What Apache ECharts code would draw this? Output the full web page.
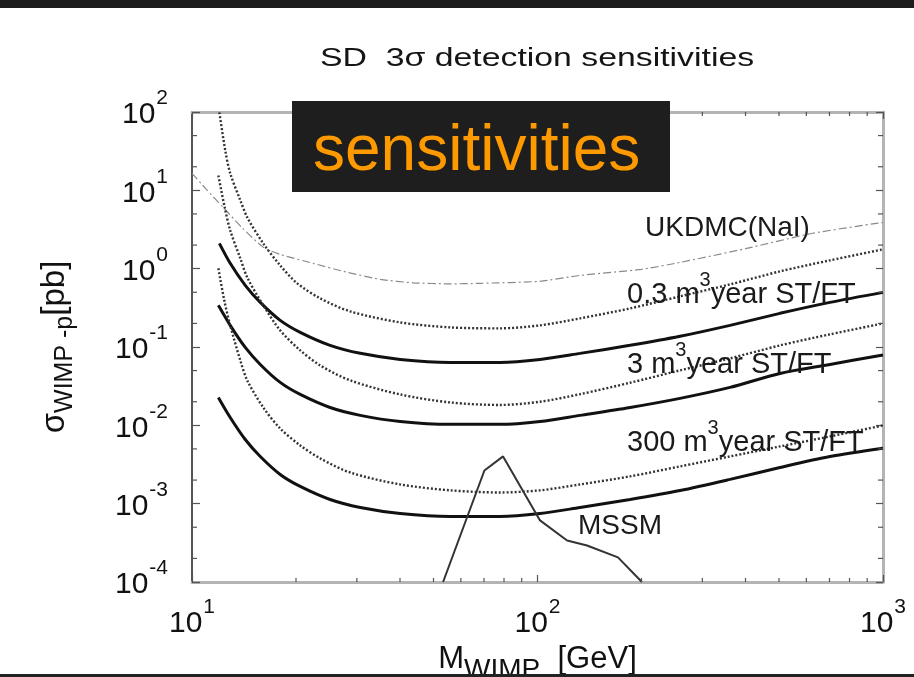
<!DOCTYPE html>
<html><head><meta charset="utf-8">
<script src="https://cdn.jsdelivr.net/npm/echarts@6/dist/echarts.min.js"></script>
<style>html,body{margin:0;padding:0;background:#fff}#c{width:914px;height:677px}</style>
</head><body><div id="c"></div>
<script>
// ---------- data ----------
const titleText = 'SD  3\u03c3 detection sensitivities';
const overlayText = 'sensitivities';
const xRange = [10, 1000];
const yRange = [1e-4, 100];
const xMinorTicks = [20,30,40,50,60,70,80,90,200,300,400,500,600,700,800,900];
const yMinorTicks = [2e-4,5e-4,2e-3,5e-3,2e-2,5e-2,0.2,0.5,2,5,20,50];

const ukdmcMass  = [10, 11.0, 12.3, 14.0, 16.1, 18.0, 22.4, 28.1, 35.1, 43.7, 55.9, 68.2, 101.7, 132.8, 200, 258, 400, 626, 1000];
const ukdmcSigma = [16.5, 10.3, 6.07, 3.30, 1.87, 1.52, 1.17, 0.90, 0.73, 0.66, 0.64, 0.65, 0.69, 0.82, 0.98, 1.20, 1.80, 2.83, 3.9];

const dot03Mass  = [12.0, 12.48, 12.9, 13.80, 14.45, 16.08, 18.0, 20.17, 23.5, 28.7, 40.05, 55.9, 77.9, 101.7, 132.8, 185.3, 258.5, 360.7, 503.2, 702.1, 1000];
const dot03Sigma = [99, 32.4, 16.5, 7.45, 4.52, 2.10, 1.10, 0.649, 0.418, 0.285, 0.206, 0.178, 0.173, 0.189, 0.232, 0.311, 0.443, 0.630, 0.924, 1.276, 1.764];

const sol03Mass  = [12.0, 12.9, 14.26, 15.76, 18.0, 20.57, 25.1, 30.7, 40.05, 55.9, 77.9, 101.7, 132.8, 185.3, 258.5, 360.7, 503.2, 702.1, 1000];
const sol03Sigma = [2.10, 1.17, 0.612, 0.371, 0.219, 0.154, 0.105, 0.083, 0.0694, 0.0636, 0.0636, 0.0694, 0.0829, 0.105, 0.137, 0.189, 0.269, 0.371, 0.498];

const dot3Mass  = [11.92, 12.4, 12.9, 13.8, 14.45, 16.08, 18.0, 20.57, 23.5, 28.7, 40.05, 55.9, 77.9, 101.7, 132.8, 185.3, 258.5, 360.7, 503.2, 702.1, 1000];
const dot3Sigma = [15.5, 6.43, 3.08, 1.35, 0.774, 0.340, 0.163, 0.0905, 0.0582, 0.0375, 0.0248, 0.0196, 0.0182, 0.0200, 0.0250, 0.0350, 0.0503, 0.0715, 0.1048, 0.145, 0.200];

const sol3Mass  = [11.92, 12.9, 14.26, 15.76, 18.0, 20.57, 25.1, 30.7, 40.05, 55.9, 77.9, 101.7, 132.8, 185.3, 258.5, 360.7, 503.2, 702.1, 1000];
const sol3Sigma = [0.340, 0.189, 0.0988, 0.0599, 0.0353, 0.0248, 0.0169, 0.0134, 0.0112, 0.0103, 0.0103, 0.0112, 0.0134, 0.0169, 0.0221, 0.0305, 0.0460, 0.0599, 0.079];

const dot300Mass  = [11.92, 12.4, 12.9, 13.8, 14.45, 16.08, 18.0, 20.57, 23.5, 28.7, 40.05, 55.9, 77.9, 101.7, 132.8, 185.3, 258.5, 360.7, 503.2, 702.1, 1000];
const dot300Sigma = [1.01, 0.394, 0.189, 0.0674, 0.0375, 0.0169, 0.00913, 0.00554, 0.00378, 0.0025, 0.00176, 0.00148, 0.00139, 0.00148, 0.00176, 0.00223, 0.00299, 0.00401, 0.00538, 0.00721, 0.00997];

const sol300Mass  = [11.92, 12.9, 14.26, 15.76, 18.0, 20.57, 25.1, 30.7, 40.05, 55.9, 77.9, 101.7, 132.8, 185.3, 258.5, 360.7, 503.2, 702.1, 1000];
const sol300Sigma = [0.0227, 0.0126, 0.0066, 0.0040, 0.00236, 0.00166, 0.00113, 0.000894, 0.000749, 0.000686, 0.000686, 0.000749, 0.000894, 0.00113, 0.00147, 0.00204, 0.0029, 0.0040, 0.0051];

const mssmMass  = [53.3, 70.2, 79.5, 101.7, 121.8, 139.1, 171, 200.5];
const mssmSigma = [1e-4, 0.00265, 0.00401, 0.000611, 0.000339, 0.000292, 0.000206, 1e-4];

const labelMass  = [204.8, 181.6, 181.6, 181.6, 131];
const labelSigma = [2.44, 0.34, 0.0434, 0.00438, 0.000381];
const labelText  = ['UKDMC(NaI)', '0.3 m|year ST/FT', '3 m|year ST/FT', '300 m|year ST/FT', 'MSSM'];

// ---------- chart ----------
const F = 'Liberation Sans, Arial, Helvetica, sans-serif';
const pair = (a, b) => a.map((v, i) => [v, b[i]]);
const chart = echarts.init(document.getElementById('c'), null, {renderer: 'canvas'});

function sup(v) {
  return '{b|10}{s|' + Math.round(Math.log10(v)) + '}';
}
const labelRich = {
  b: {fontSize: 30, fontFamily: F, color: '#111', padding: [6, 0, 0, 0]},
  s: {fontSize: 21, fontFamily: F, color: '#111', padding: [0, 0, 27, 1]}
};

function lineSeries(name, m, s, style, smooth) {
  return {
    type: 'line', name: name, data: pair(m, s), showSymbol: false, symbol: 'none',
    smooth: smooth, lineStyle: style, xAxisIndex: 0, yAxisIndex: 0, z: 3, silent: true
  };
}
const solid = {color: '#111', width: 3, type: 'solid'};
const dotted = {color: '#333', width: 2.4, type: [2, 2]};

const option = {
  animation: false,
  backgroundColor: '#fff',
  grid: {left: 192, right: 31, top: 112, bottom: 95, containLabel: false, outerBoundsMode: 'none'},
  xAxis: [{
    type: 'log', logBase: 10, min: xRange[0], max: xRange[1], position: 'bottom',
    axisLine: {show: true, onZero: false, lineStyle: {color: '#b4b4b4', width: 3}},
    axisTick: {show: true, inside: true, length: 7, lineStyle: {color: '#555', width: 1.2}},
    splitLine: {show: false}, minorTick: {show: false},
    axisLabel: {margin: 15, formatter: sup, rich: labelRich},
    name: '{m|M}{s|WIMP}{m|  [GeV]}', nameLocation: 'middle', nameGap: 48,
    nameTextStyle: {color: '#111', fontFamily: F, fontSize: 31, rich: {
      m: {fontSize: 31, fontFamily: F, color: '#111'},
      s: {fontSize: 28, fontFamily: F, color: '#111', padding: [21, 0, 0, 0]}
    }}
  }, {
    type: 'log', logBase: 10, min: xRange[0], max: xRange[1], position: 'top',
    axisLine: {show: true, onZero: false, lineStyle: {color: '#b4b4b4', width: 3}},
    axisTick: {show: true, inside: true, length: 7, lineStyle: {color: '#555', width: 1.2}},
    axisLabel: {show: false}, splitLine: {show: false}
  }],
  yAxis: [{
    type: 'log', logBase: 10, min: yRange[0], max: yRange[1], position: 'left',
    axisLine: {show: true, onZero: false, lineStyle: {color: '#555', width: 2}},
    axisTick: {show: true, inside: true, length: 8, lineStyle: {color: '#555', width: 1.2}},
    splitLine: {show: false}, minorTick: {show: false},
    axisLabel: {margin: 24, formatter: sup, rich: labelRich},
    name: '{m|\u03c3}{s|WIMP -p}{m|[pb]}', nameLocation: 'middle', nameRotate: 90, nameGap: 114,
    nameTextStyle: {color: '#111', fontFamily: F, fontSize: 33, rich: {
      m: {fontSize: 33, fontFamily: F, color: '#111'},
      s: {fontSize: 25, fontFamily: F, color: '#111', padding: [22, 0, 0, 0]}
    }}
  }, {
    type: 'log', logBase: 10, min: yRange[0], max: yRange[1], position: 'right',
    axisLine: {show: true, onZero: false, lineStyle: {color: '#b4b4b4', width: 3}},
    axisTick: {show: true, inside: true, length: 7, lineStyle: {color: '#555', width: 1.2}},
    axisLabel: {show: false}, splitLine: {show: false}
  }],
  graphic: [
    {type: 'rect', shape: {x: 0, y: 0, width: 914, height: 8}, style: {fill: '#1d1d1d'}, z: 100},
    {type: 'rect', shape: {x: 0, y: 674, width: 914, height: 3}, style: {fill: '#222'}, z: 100},
    {type: 'text', x: 537, y: 59, scaleX: 1.3, z: 100,
      style: {text: titleText, fontSize: 26, fontFamily: F, fill: '#151515', align: 'center', verticalAlign: 'middle', textAlign: 'center', textVerticalAlign: 'middle'}},
    {type: 'rect', shape: {x: 292, y: 101, width: 378, height: 91}, style: {fill: '#1e1e1e'}, z: 100},
    {type: 'text', x: 313, y: 152, z: 101,
      style: {text: overlayText, fontSize: 64, fontFamily: F, fill: '#ff9900', align: 'left', verticalAlign: 'middle', textAlign: 'left', textVerticalAlign: 'middle'}}
  ],
  series: [
    lineSeries('UKDMC', ukdmcMass, ukdmcSigma, {color: '#8a8a8a', width: 1.2, type: [8, 3, 2, 3]}, 0.2),
    lineSeries('0.3 FT', dot03Mass, dot03Sigma, dotted, 0.3),
    lineSeries('0.3 ST', sol03Mass, sol03Sigma, solid, 0.3),
    lineSeries('3 FT', dot3Mass, dot3Sigma, dotted, 0.3),
    lineSeries('3 ST', sol3Mass, sol3Sigma, solid, 0.3),
    lineSeries('300 FT', dot300Mass, dot300Sigma, dotted, 0.3),
    lineSeries('300 ST', sol300Mass, sol300Sigma, solid, 0.3),
    lineSeries('MSSM', mssmMass, mssmSigma, {color: '#333', width: 2, type: 'solid'}, false),
    {
      type: 'custom', name: 'xMinor', coordinateSystem: 'cartesian2d', silent: true, clip: false, z: 5,
      data: xMinorTicks.map(v => [v, yRange[0]]),
      renderItem: function (params, api) {
        const v = api.value(0);
        const b = api.coord([v, yRange[0]]);
        const t = api.coord([v, yRange[1]]);
        const st = {stroke: '#555', lineWidth: 1.2};
        return {type: 'group', children: [
          {type: 'line', shape: {x1: b[0], y1: b[1], x2: b[0], y2: b[1] - 4}, style: st},
          {type: 'line', shape: {x1: t[0], y1: t[1], x2: t[0], y2: t[1] + 4}, style: st}
        ]};
      }
    },
    {
      type: 'custom', name: 'yMinor', coordinateSystem: 'cartesian2d', silent: true, clip: false, z: 5,
      data: yMinorTicks.map(v => [xRange[0], v]),
      renderItem: function (params, api) {
        const v = api.value(1);
        const l = api.coord([xRange[0], v]);
        const r = api.coord([xRange[1], v]);
        const st = {stroke: '#555', lineWidth: 1.2};
        return {type: 'group', children: [
          {type: 'line', shape: {x1: l[0], y1: l[1], x2: l[0] + 5, y2: l[1]}, style: st},
          {type: 'line', shape: {x1: r[0], y1: r[1], x2: r[0] - 5, y2: r[1]}, style: st}
        ]};
      }
    },
    {
      type: 'custom', name: 'labels', coordinateSystem: 'cartesian2d', silent: true, clip: false, z: 10,
      data: labelMass.map((m, i) => [m, labelSigma[i], i]),
      renderItem: function (params, api) {
        const p = api.coord([api.value(0), api.value(1)]);
        const txt = labelText[api.value(2)];
        const parts = txt.split('|');
        const big = parts.length > 1 ? 29 : 28;
        const rich = {
          n: {fontSize: big, fontFamily: F, fill: '#1a1a1a'},
          s: {fontSize: 20, fontFamily: F, fill: '#1a1a1a', padding: [0, 0, 30, 0]}
        };
        const t = parts.length > 1 ? '{n|' + parts[0] + '}{s|3}{n|' + parts[1] + '}' : '{n|' + txt + '}';
        return {type: 'text', x: p[0], y: p[1] - 10,
          style: {text: t, rich: rich, fill: '#1a1a1a', fontSize: big, fontFamily: F, align: 'left', verticalAlign: 'middle'}};
      }
    }
  ]
};
chart.setOption(option);
</script></body></html>
